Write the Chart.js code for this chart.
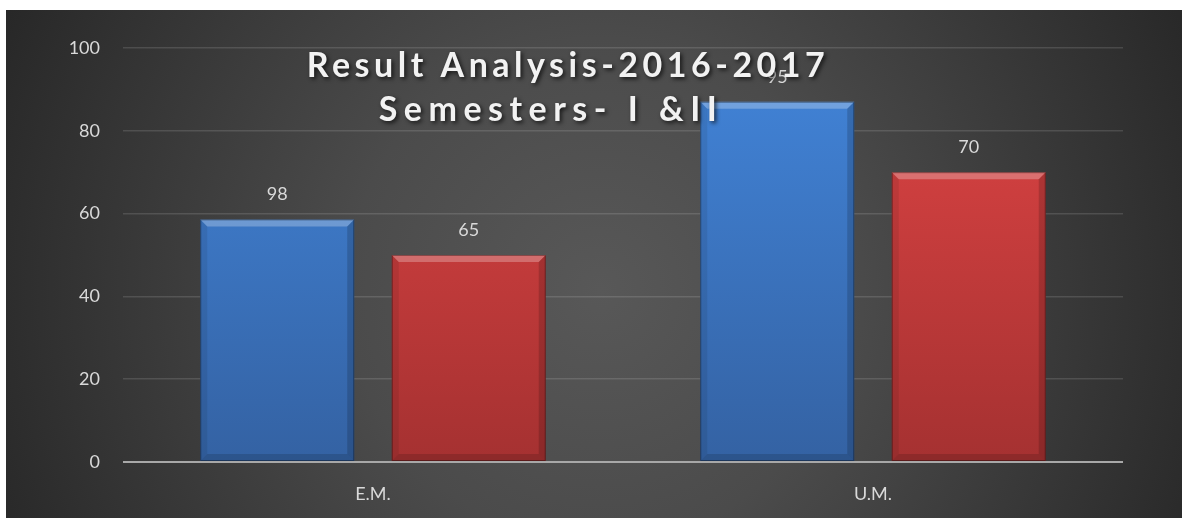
<!DOCTYPE html>
<html><head><meta charset="utf-8">
<script src="https://cdn.jsdelivr.net/npm/chart.js@4"></script>
<style>html,body{margin:0;padding:0;background:#fff;overflow:hidden}#wrap{position:absolute;left:0;top:0;width:1182px;height:518px;}</style>
</head><body><div id="wrap"><canvas id="c"></canvas></div>
<script>
const categories = ['E.M.', 'U.M.'];
const series1Values = [58.6, 87];
const series2Values = [50, 70];
const series1Labels = ['98', '95'];
const series2Labels = ['65', '70'];
const yTicks = [0, 20, 40, 60, 80, 100];
const titleLines = ['Result Analysis-2016-2017', 'Semesters- I &II'];
const barLabels = [series1Labels, series2Labels];

const FONT = 'Lato, "Open Sans", sans-serif';

const bgPlugin = {
  id: 'bg',
  beforeDraw(chart) {
    const ctx = chart.ctx, w = chart.width, h = chart.height;
    ctx.save();
    ctx.fillStyle = '#ffffff';
    ctx.fillRect(0, 0, w, h);
    const g = ctx.createRadialGradient(600, 290, 0, 600, 290, 720);
    g.addColorStop(0, '#585858');
    g.addColorStop(0.35, '#4b4b4b');
    g.addColorStop(1, '#222222');
    ctx.fillStyle = g;
    ctx.fillRect(6, 10, w - 6, h - 10);
    ctx.restore();
  }
};

const bevelPlugin = {
  id: 'bevel',
  afterDatasetsDraw(chart) {
    const ctx = chart.ctx;
    chart.data.datasets.forEach((ds, di) => {
      const meta = chart.getDatasetMeta(di);
      meta.data.forEach((el, i) => {
        const p = el.getProps(['x', 'y', 'base', 'width'], true);
        const l = p.x - p.width / 2, r = p.x + p.width / 2, t = p.y, b = p.base, e = 7;
        ctx.save();
        const poly = (pts, col) => {
          ctx.beginPath(); ctx.moveTo(pts[0][0], pts[0][1]);
          for (let k = 1; k < pts.length; k++) ctx.lineTo(pts[k][0], pts[k][1]);
          ctx.closePath(); ctx.fillStyle = col; ctx.fill();
        };
        poly([[l, t], [r, t], [r - e, t + e], [l + e, t + e]], 'rgba(255,255,255,0.26)');
        poly([[l, t], [l + e, t + e], [l + e, b - e], [l, b]], 'rgba(0,0,0,0.08)');
        poly([[r, t], [r - e, t + e], [r - e, b - e], [r, b]], 'rgba(0,0,0,0.16)');
        poly([[l, b], [l + e, b - e], [r - e, b - e], [r, b]], 'rgba(0,0,0,0.14)');
        ctx.strokeStyle = 'rgba(0,0,0,0.35)';
        ctx.lineWidth = 1;
        ctx.strokeRect(l + 0.5, t + 0.5, p.width - 1, b - t - 1);
        ctx.fillStyle = '#d9d9d9';
        ctx.font = '18px ' + FONT;
        ctx.textAlign = 'center';
        ctx.textBaseline = 'middle';
        ctx.fillText(barLabels[di][i], p.x, t - 25);
        ctx.restore();
      });
    });
  }
};

const titlePlugin = {
  id: 'overlayTitle',
  afterDraw(chart) {
    const ctx = chart.ctx;
    ctx.save();
    ctx.font = 'bold 34px ' + FONT;
    ctx.textAlign = 'center';
    ctx.textBaseline = 'middle';
    ctx.shadowColor = 'rgba(0,0,0,0.7)';
    ctx.shadowOffsetX = 2; ctx.shadowOffsetY = 2; ctx.shadowBlur = 4;
    ctx.fillStyle = '#f2f2f2';
    ctx.letterSpacing = '4.5px';
    ctx.fillText(titleLines[0], 568, 66);
    ctx.letterSpacing = '6.5px';
    ctx.fillText(titleLines[1], 551, 110);
    ctx.restore();
  }
};

function grad(ctx, top, bottom, c1, c2) {
  const g = ctx.createLinearGradient(0, top, 0, bottom);
  g.addColorStop(0, c1); g.addColorStop(1, c2);
  return g;
}

new Chart(document.getElementById('c'), {
  type: 'bar',
  data: {
    labels: categories,
    datasets: [
      { data: series1Values,
        backgroundColor: (c) => { const a = c.chart.chartArea; return a ? grad(c.chart.ctx, a.top, a.bottom, '#4285da', '#3462a3') : '#3d7cc9'; },
        borderWidth: 0 },
      { data: series2Values,
        backgroundColor: (c) => { const a = c.chart.chartArea; return a ? grad(c.chart.ctx, a.top, a.bottom, '#e04545', '#a53131') : '#d64040'; },
        borderWidth: 0 }
    ]
  },
  options: {
    responsive: true, maintainAspectRatio: false, animation: false, devicePixelRatio: 1,
    categoryPercentage: 0.766, barPercentage: 0.804,
    layout: { padding: { left: 6, top: 48, right: 59, bottom: 0 } },
    plugins: { legend: { display: false }, title: { display: false }, tooltip: { enabled: false } },
    scales: {
      x: {
        grid: { display: false, drawTicks: false },
        border: { display: false },
        ticks: { color: '#d9d9d9', font: { size: 18, family: FONT }, padding: 21 },
        afterFit(s) { s.height = 56; }
      },
      y: {
        min: 0, max: 100,
        afterBuildTicks(s) { s.ticks = yTicks.map(v => ({ value: v })); },
        grid: {
          drawTicks: false,
          color: (c) => c.tick && c.tick.value === 0 ? '#a8a8a8' : 'rgba(255,255,255,0.13)',
          lineWidth: (c) => c.tick && c.tick.value === 0 ? 2 : 1.5
        },
        border: { display: false },
        ticks: { color: '#d9d9d9', font: { size: 18, family: FONT }, padding: 23 },
        afterFit(s) { s.width = 117; }
      }
    }
  },
  plugins: [bgPlugin, bevelPlugin, titlePlugin]
});
</script></body></html>
